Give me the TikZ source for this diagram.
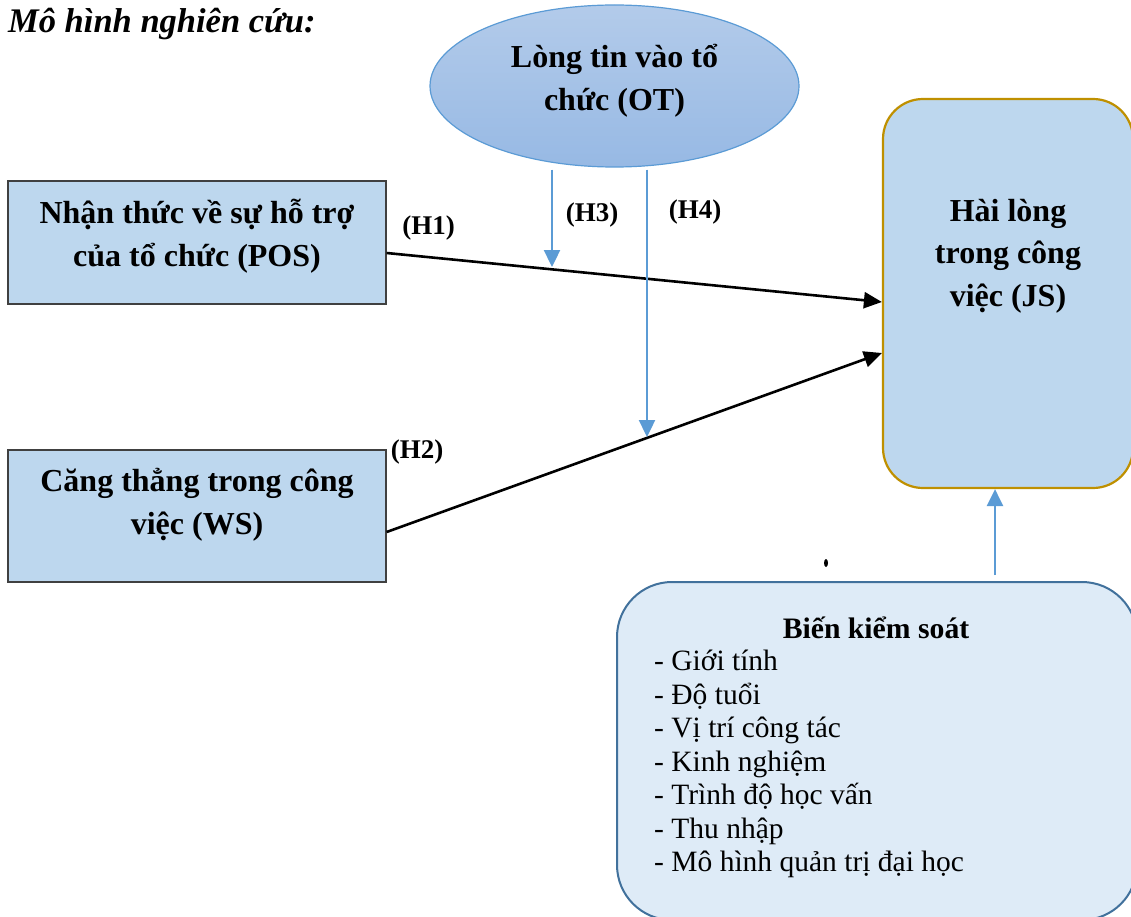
\documentclass[tikz,border=0pt]{standalone}
\usepackage{fontspec}
\setmainfont{Liberation Serif}
\usetikzlibrary{shapes.geometric,arrows.meta,calc}
\definecolor{boxblue}{HTML}{BDD7EE}
\definecolor{ctrlfill}{HTML}{DEEBF7}
\definecolor{ctrlline}{HTML}{41719C}
\definecolor{gold}{HTML}{BF9000}
\definecolor{arrblue}{HTML}{5B9BD5}
\definecolor{elltop}{HTML}{B3CBEA}
\definecolor{ellbot}{HTML}{97B9E4}
\definecolor{darkline}{HTML}{404040}
\tikzset{
  bigtxt/.style={font=\fontsize{32}{42.5}\selectfont\bfseries, align=center, inner sep=0pt},
  sqbox/.style={draw=darkline, fill=boxblue, line width=1.3pt, inner sep=0pt},
  hlabel/.style={font=\fontsize{27}{30}\selectfont\bfseries, inner sep=0pt},
  blk/.style={line width=2.6pt, -{Triangle[length=18pt,width=16pt]}},
  blu/.style={draw=arrblue, line width=2.4pt, -{Triangle[length=17pt,width=16pt]}},
}
\begin{document}
\begin{tikzpicture}[x=1pt,y=-1pt]
\clip (0,0) rectangle (1131,917);
\fill[white] (0,0) rectangle (1131,917);

% title
\node[anchor=west, inner sep=0pt, font=\fontsize{34.5}{40}\selectfont\bfseries\itshape] (title) at (8,24) {Mô hình nghiên cứu:};

% ellipse OT
\node[ellipse, draw=arrblue, line width=1.2pt, top color=elltop, bottom color=ellbot,
      minimum width=369pt, minimum height=162pt, inner sep=0pt] (ot) at (614.5,86) {};
\node[bigtxt] (ottxt) at (614.5,81) {Lòng tin vào tổ\\chức (OT)};

% POS box
\node[sqbox, minimum width=378pt, minimum height=123pt] (pos) at (197,242.5) {};
\node[bigtxt] (postxt) at (197,236) {Nhận thức về sự hỗ trợ\\của tổ chức (POS)};

% WS box
\node[sqbox, minimum width=378pt, minimum height=132pt] (ws) at (197,516) {};
\node[bigtxt] (wstxt) at (197,505) {Căng thẳng trong công\\việc (WS)};

% JS box
\node[draw=gold, fill=boxblue, line width=2.2pt, rounded corners=40pt,
      minimum width=250pt, minimum height=389pt, inner sep=0pt] (js) at (1008,293.5) {};
\node[bigtxt] (jstxt) at (1008,256) {Hài lòng\\trong công\\việc (JS)};

% control box
\node[draw=ctrlline, fill=ctrlfill, line width=2pt, rounded corners=55pt,
      minimum width=520pt, minimum height=338pt, inner sep=0pt] (ctrl) at (877,751) {};
\node[font=\fontsize{29.7}{34}\selectfont\bfseries, inner sep=0pt] (ctrltitle) at (876,628) {Biến kiểm soát};
\node[anchor=north west, align=left, inner sep=0pt, font=\fontsize{29.5}{33.5}\selectfont] (ctrllist) at (654,650)
  {- Giới tính\\- Độ tuổi\\- Vị trí công tác\\- Kinh nghiệm\\- Trình độ học vấn\\- Thu nhập\\- Mô hình quản trị đại học};

% tiny mark
\fill[black] (826,563) ellipse (2pt and 4pt);

% connectors
\coordinate (h3tip) at (552,267);
\coordinate (h4tip) at (647,437);
\draw[blk] ([yshift=-10.5pt]pos.east) -- ([yshift=-8.5pt]js.west);
\draw[blk] ([yshift=-16pt]ws.east) -- ([yshift=-59.5pt]js.west);
\draw[blu] ([yshift=-2pt]ot.south -| h3tip) -- (h3tip);
\draw[blu] ([yshift=-2pt]ot.south -| h4tip) -- (h4tip);
\coordinate (ctrlstart) at (995,575);
\draw[blu] (ctrlstart) -- (js.south -| ctrlstart);

% labels
\node[hlabel] (h1) at (428.5,228) {(H1)};
\node[hlabel] (h2) at (417,452) {(H2)};
\node[hlabel] (h3) at (592,215) {(H3)};
\node[hlabel] (h4) at (695,212) {(H4)};
\end{tikzpicture}
\end{document}
